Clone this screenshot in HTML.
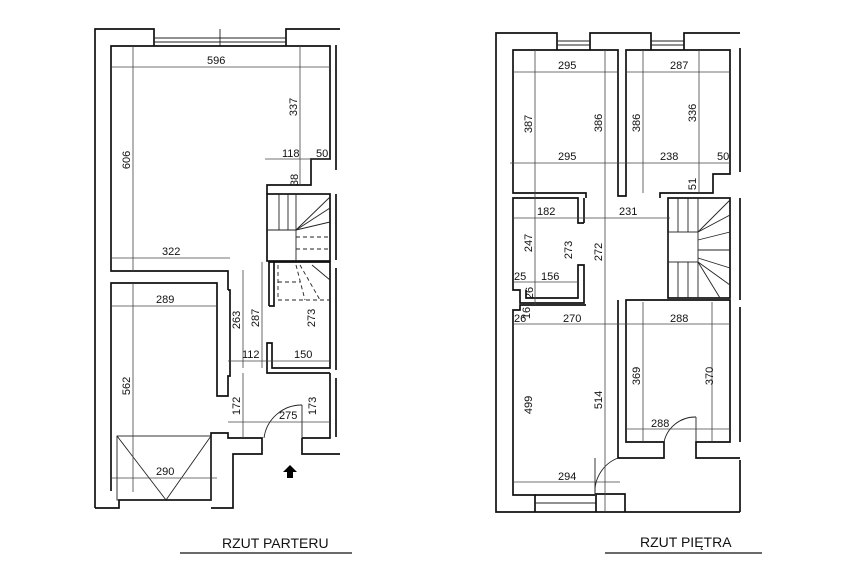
<!DOCTYPE html>
<html><head><meta charset="utf-8"><style>
html,body{margin:0;padding:0;background:#fff;}
svg{display:block;}
text{font-family:"Liberation Sans",sans-serif;fill:#111;}
.w{fill:none;stroke:#111;stroke-width:1.7;}
.d{fill:none;stroke:#444;stroke-width:0.8;}
.s{fill:none;stroke:#222;stroke-width:0.9;}
.ds{fill:none;stroke:#222;stroke-width:0.9;stroke-dasharray:4,3;}
.t{font-size:11px;}
</style></head><body>
<svg width="844" height="571" viewBox="0 0 844 571" xmlns="http://www.w3.org/2000/svg">
<polyline class="w" points="95,508 95,29 154,29 154,46"/>
<polyline class="w" points="286,46 286,29 340,29"/>
<line class="s" x1="154" y1="38" x2="286" y2="38"/><line class="s" x1="154" y1="42" x2="286" y2="42"/>
<line class="s" x1="220" y1="29" x2="220" y2="46"/>
<line class="w" x1="336" y1="45" x2="336" y2="170"/>
<line class="w" x1="336" y1="194" x2="336" y2="260"/>
<line class="w" x1="336" y1="268" x2="336" y2="370"/>
<line class="w" x1="336" y1="378" x2="336" y2="437"/>
<polyline class="w" points="228,290 228,271 111,271 111,46 330,46 330,159 311,159 311,185 267,185 267,194"/>
<rect class="w" x="267" y="194" width="63" height="67"/>
<line class="s" x1="267" y1="230" x2="296" y2="230"/>
<line class="s" x1="279" y1="194" x2="279" y2="230"/><line class="s" x1="288" y1="194" x2="288" y2="230"/>
<line class="s" x1="296" y1="194" x2="296" y2="261"/>
<line class="s" x1="296" y1="230" x2="330" y2="197"/><line class="s" x1="296" y1="230" x2="330" y2="208"/><line class="s" x1="296" y1="230" x2="330" y2="222"/>
<line class="ds" x1="296" y1="237" x2="330" y2="237"/><line class="ds" x1="296" y1="249" x2="330" y2="249"/>
<polyline class="w" points="269,306 269,262 274,262 274,306 269,306"/>
<polyline class="w" points="274,262 330,262 330,368 272,368 272,343 267,343 267,373 330,373"/>
<line class="ds" x1="278" y1="265" x2="278" y2="300"/><line class="ds" x1="278" y1="300" x2="330" y2="300"/>
<line class="ds" x1="278" y1="282" x2="300" y2="282"/>
<line class="ds" x1="296" y1="265" x2="305" y2="300"/><line class="ds" x1="300" y1="265" x2="320" y2="300"/>
<line class="s" x1="312" y1="265" x2="330" y2="280"/>
<polyline class="w" points="111,491 111,283 217,283 217,396 228,396 228,376 230,376 230,290 228,290"/>
<polyline class="w" points="95,508 119,508 119,500 211,500 211,433 228,433 228,438 262,438 262,454 233,454 233,508 211,508"/>
<polyline class="w" points="302,438 302,454 340,454"/>
<polyline class="w" points="302,438 330,438 330,373"/>
<line class="s" x1="302" y1="405" x2="302" y2="438"/>
<path class="s" d="M302,405 A38,38 0 0 0 264,438"/>
<rect class="s" x="117" y="436" width="94" height="64"/>
<polyline class="s" points="117,436 166,500 211,436"/>
<polygon points="290,465 283,472 287,472 287,478 293,478 293,472 297,472" fill="#000"/>
<line class="d" x1="111" y1="67" x2="330" y2="67"/>
<text class="t" x="207" y="64">596</text>
<line class="d" x1="133" y1="46" x2="133" y2="271"/>
<text class="t" transform="translate(130,160) rotate(-90)" text-anchor="middle">606</text>
<line class="d" x1="300" y1="46" x2="300" y2="185"/>
<text class="t" transform="translate(297,107) rotate(-90)" text-anchor="middle">337</text>
<line class="d" x1="265" y1="159" x2="330" y2="159"/>
<text class="t" x="282" y="157">118</text><text class="t" x="316" y="157">50</text>
<text class="t" transform="translate(298,180) rotate(-90)" text-anchor="middle">38</text>
<line class="d" x1="111" y1="258" x2="230" y2="258"/>
<text class="t" x="162" y="255">322</text>
<line class="d" x1="111" y1="306" x2="217" y2="306"/>
<text class="t" x="156" y="303">289</text>
<line class="d" x1="133" y1="283" x2="133" y2="492"/>
<text class="t" transform="translate(130,386) rotate(-90)" text-anchor="middle">562</text>
<line class="d" x1="243" y1="270" x2="243" y2="368"/>
<text class="t" transform="translate(240,320) rotate(-90)" text-anchor="middle">263</text>
<line class="d" x1="262" y1="262" x2="262" y2="368"/>
<text class="t" transform="translate(259,318) rotate(-90)" text-anchor="middle">287</text>
<text class="t" transform="translate(315,318) rotate(-90)" text-anchor="middle">273</text>
<line class="d" x1="228" y1="361" x2="330" y2="361"/>
<text class="t" x="242" y="358">112</text><text class="t" x="294" y="358">150</text>
<line class="d" x1="243" y1="373" x2="243" y2="438"/>
<text class="t" transform="translate(240,406) rotate(-90)" text-anchor="middle">172</text>
<text class="t" transform="translate(316,406) rotate(-90)" text-anchor="middle">173</text>
<line class="d" x1="228" y1="422" x2="330" y2="422"/>
<text class="t" x="279" y="419">275</text>
<line class="d" x1="111" y1="478" x2="217" y2="478"/>
<text class="t" x="156" y="475">290</text>
<polyline class="w" points="740,512 496,512 496,33 557,33 557,50"/>
<polyline class="w" points="590,50 590,33 651,33 651,50"/>
<polyline class="w" points="684,50 684,33 740,33"/>
<line class="s" x1="557" y1="41" x2="590" y2="41"/><line class="s" x1="557" y1="45" x2="590" y2="45"/>
<line class="s" x1="651" y1="41" x2="684" y2="41"/><line class="s" x1="651" y1="45" x2="684" y2="45"/>
<line class="w" x1="740" y1="48" x2="740" y2="172"/>
<line class="w" x1="740" y1="198" x2="740" y2="300"/>
<line class="w" x1="740" y1="307" x2="740" y2="442"/>
<line class="w" x1="740" y1="460" x2="740" y2="512"/>
<polyline class="w" points="586,198 586,193 513,193 513,50 618,50 618,196 626,196 626,50 730,50 730,174 713,174 713,193 660,193 660,198"/>
<polyline class="w" points="584,223 578,223 578,198 513,198 513,290 520,290 520,303 584,303 584,265 578,265 578,298 526,298 526,290"/>
<polyline class="w" points="584,198 584,223"/>
<rect class="w" x="668" y="198" width="62" height="100"/>
<rect class="s" x="668" y="232" width="30" height="30"/>
<line class="s" x1="678" y1="198" x2="678" y2="232"/><line class="s" x1="688" y1="198" x2="688" y2="232"/><line class="s" x1="698" y1="198" x2="698" y2="232"/>
<line class="s" x1="678" y1="262" x2="678" y2="298"/><line class="s" x1="688" y1="262" x2="688" y2="298"/><line class="s" x1="698" y1="262" x2="698" y2="298"/>
<line class="s" x1="698" y1="232" x2="730" y2="200"/><line class="s" x1="698" y1="232" x2="730" y2="215"/><line class="s" x1="698" y1="240" x2="730" y2="232"/><line class="s" x1="698" y1="250" x2="730" y2="250"/><line class="s" x1="698" y1="258" x2="730" y2="268"/><line class="s" x1="698" y1="262" x2="730" y2="285"/><line class="s" x1="698" y1="262" x2="720" y2="298"/>
<polyline class="w" points="586,305 520,305 520,310 513,310 513,495 535,495 535,512"/>
<polyline class="w" points="535,495 595,495"/>
<line class="s" x1="535" y1="503" x2="596" y2="503"/>
<polyline class="w" points="596,512 596,494 625,494 625,512"/>
<polyline class="w" points="618,300 618,458 664,458 664,442 626,442 626,300 730,300 730,442 696,442 696,458 740,458"/>
<line class="s" x1="696" y1="417" x2="696" y2="442"/>
<path class="s" d="M696,417 A32,32 0 0 0 664,442"/>
<line class="s" x1="595" y1="458" x2="595" y2="494"/>
<path class="s" d="M618,458 A36,36 0 0 0 595,494"/>
<line class="d" x1="513" y1="72" x2="618" y2="72"/><text class="t" x="558" y="69">295</text>
<line class="d" x1="626" y1="72" x2="730" y2="72"/><text class="t" x="670" y="69">287</text>
<line class="d" x1="535" y1="50" x2="535" y2="305"/>
<text class="t" transform="translate(532,124) rotate(-90)" text-anchor="middle">387</text>
<line class="d" x1="605" y1="50" x2="605" y2="512"/>
<text class="t" transform="translate(602,123) rotate(-90)" text-anchor="middle">386</text>
<line class="d" x1="643" y1="50" x2="643" y2="193"/>
<text class="t" transform="translate(640,123) rotate(-90)" text-anchor="middle">386</text>
<line class="d" x1="699" y1="50" x2="699" y2="193"/>
<text class="t" transform="translate(696,113) rotate(-90)" text-anchor="middle">336</text>
<line class="d" x1="510" y1="163" x2="730" y2="163"/>
<text class="t" x="558" y="160">295</text><text class="t" x="660" y="160">238</text><text class="t" x="717" y="160">50</text>
<text class="t" transform="translate(696,184) rotate(-90)" text-anchor="middle">51</text>
<line class="d" x1="513" y1="218" x2="670" y2="218"/>
<text class="t" x="537" y="215">182</text><text class="t" x="619" y="215">231</text>
<text class="t" transform="translate(532,243) rotate(-90)" text-anchor="middle">247</text>
<text class="t" transform="translate(572,250) rotate(-90)" text-anchor="middle">273</text>
<text class="t" transform="translate(602,252) rotate(-90)" text-anchor="middle">272</text>
<line class="d" x1="513" y1="282" x2="578" y2="282"/>
<text class="t" x="514" y="280">25</text><text class="t" x="541" y="280">156</text>
<text class="t" transform="translate(533,293) rotate(-90)" text-anchor="middle">26</text>
<text class="t" transform="translate(530,313) rotate(-90)" text-anchor="middle">16</text>
<line class="d" x1="513" y1="324" x2="730" y2="324"/>
<text class="t" x="514" y="322">26</text><text class="t" x="563" y="322">270</text><text class="t" x="670" y="322">288</text>
<text class="t" transform="translate(532,405) rotate(-90)" text-anchor="middle">499</text>
<text class="t" transform="translate(602,400) rotate(-90)" text-anchor="middle">514</text>
<line class="d" x1="643" y1="302" x2="643" y2="442"/>
<text class="t" transform="translate(640,376) rotate(-90)" text-anchor="middle">369</text>
<line class="d" x1="712" y1="302" x2="712" y2="442"/>
<text class="t" transform="translate(713,376) rotate(-90)" text-anchor="middle">370</text>
<line class="d" x1="626" y1="429" x2="730" y2="429"/><text class="t" x="651" y="427">288</text>
<line class="d" x1="513" y1="482" x2="620" y2="482"/><text class="t" x="558" y="480">294</text>
<text x="222" y="548" style="font-size:14px">RZUT PARTERU</text>
<line x1="180" y1="553" x2="352" y2="553" stroke="#111" stroke-width="1.2"/>
<text x="640" y="547" style="font-size:14px">RZUT PIĘTRA</text>
<line x1="605" y1="553" x2="762" y2="553" stroke="#111" stroke-width="1.2"/>
</svg>
</body></html>
